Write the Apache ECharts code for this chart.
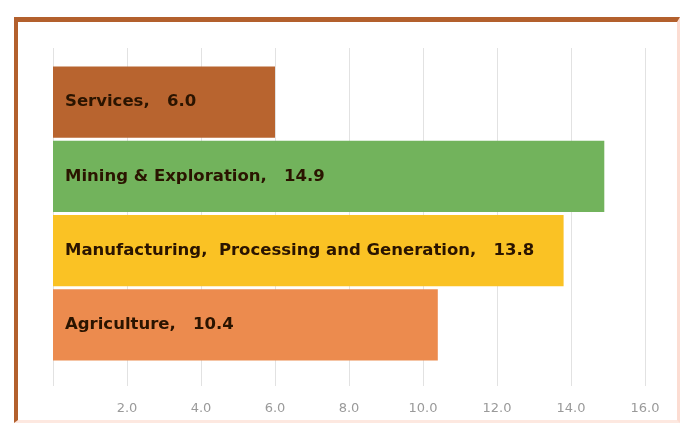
<!DOCTYPE html>
<html>
<head>
<meta charset="utf-8">
<script src="https://cdn.jsdelivr.net/npm/echarts@6/dist/echarts.min.js"></script>
<style>
  html, body { margin: 0; padding: 0; background: #ffffff; }
  #chart { position: absolute; left: 0; top: 0; width: 683px; height: 426px; }
  #frame { position: absolute; left: 14px; top: 17px; width: 666px; height: 406px;
           border-top: 5px solid #b3602d; border-left: 4px solid #b3602d;
           border-right: 3px solid #fcdcd2; border-bottom: 3px solid #fde8e0;
           box-sizing: border-box; pointer-events: none; }
</style>
</head>
<body>
<div id="chart"></div>
<div id="frame"></div>
<script>
const categories = ["Services", "Mining & Exploration", "Manufacturing, Processing and Generation", "Agriculture"];
const values = [6.0, 14.9, 13.8, 10.4];
const barColors = ["#b8642f", "#72b35c", "#fac224", "#ec8b4e"];
const tickValues = [0, 2, 4, 6, 8, 10, 12, 14, 16];

const chart = echarts.init(document.getElementById('chart'));
chart.setOption({
  animation: false,
  backgroundColor: '#ffffff',
  grid: [
    { left: 53, right: 38, top: 48, bottom: 40 },
    { left: 53, right: 38, top: 65, bottom: 64 }
  ],
  xAxis: [
    { type: 'value', gridIndex: 0, min: tickValues[0], max: tickValues[tickValues.length - 1], interval: 2,
      axisLine: { show: false }, axisTick: { show: false },
      splitLine: { show: true, lineStyle: { color: '#e2e2e2', width: 1 } },
      axisLabel: { showMinLabel: false, margin: 16, color: '#9a9a9a', fontSize: 13,
                   fontFamily: 'DejaVu Sans, Verdana, sans-serif',
                   formatter: v => v.toFixed(1) } },
    { type: 'value', gridIndex: 1, min: 0, max: 16, show: false }
  ],
  yAxis: [
    { type: 'category', gridIndex: 0, data: [''], show: false },
    { type: 'category', gridIndex: 1, data: categories, inverse: true, show: false }
  ],
  series: [{
    type: 'bar', xAxisIndex: 1, yAxisIndex: 1,
    barCategoryGap: '4%',
    data: values.map((v, i) => ({ value: v, itemStyle: { color: barColors[i] } })),
    label: {
      show: true, position: 'insideLeft', distance: 12,
      fontSize: 16.5, fontWeight: 'bold', color: '#2a1400',
      fontFamily: 'DejaVu Sans, Verdana, sans-serif',
      formatter: p => p.name.replace(', ', ',  ') + ',   ' + p.value.toFixed(1)
    }
  }]
});
</script>
</body>
</html>
